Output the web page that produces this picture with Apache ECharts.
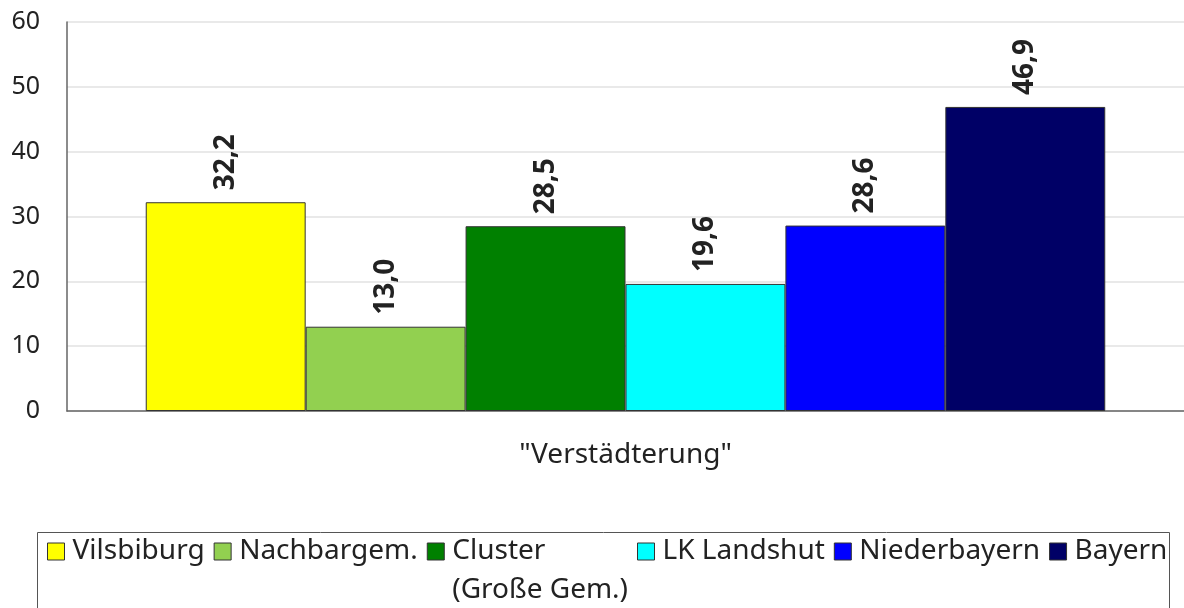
<!DOCTYPE html>
<html>
<head>
<meta charset="utf-8">
<script src="https://cdn.jsdelivr.net/npm/echarts@6/dist/echarts.min.js"></script>
<style>
  html, body { margin: 0; padding: 0; background: #fff; }
  #chart { width: 1184px; height: 608px; }
</style>
</head>
<body>
<div id="chart"></div>
<script>
const categories = ['"Verstädterung"']
const seriesNames = ['Vilsbiburg', 'Nachbargem.', 'Cluster\n(Große Gem.)', 'LK Landshut', 'Niederbayern', 'Bayern']
const seriesValues = [32.2, 13.0, 28.5, 19.6, 28.6, 46.9]
const colorList = ['#ffff00', '#92d050', '#008000', '#00ffff', '#0000ff', '#000066']
const yTicks = [0, 10, 20, 30, 40, 50, 60]

const font = 'Noto Sans'
const lineH = 39

let eChart = echarts.init(document.getElementById('chart'))

let series = seriesNames.map((name, i) => ({
    name: name,
    type: 'bar',
    barGap: 0,
    barCategoryGap: '14.1%',
    itemStyle: {
        color: colorList[i],
        borderColor: '#333',
        borderWidth: 1
    },
    label: {
        show: true,
        position: 'top',
        rotate: 90,
        align: 'left',
        verticalAlign: 'middle',
        distance: 12,
        fontFamily: font,
        fontWeight: 'bold',
        fontSize: 28,
        color: '#222',
        formatter: p => p.value.toFixed(1).replace('.', ',')
    },
    data: [seriesValues[i]]
}))

let option = {
    animation: false,
    grid: {
        left: 67,
        right: 0,
        top: 22,
        bottom: 197
    },
    xAxis: {
        type: 'category',
        data: categories,
        axisLine: { lineStyle: { color: '#666', width: 1.5 } },
        axisTick: { show: false },
        axisLabel: {
            fontFamily: font,
            fontSize: 28,
            color: '#222',
            margin: 30
        }
    },
    yAxis: {
        type: 'value',
        min: yTicks[0],
        max: yTicks[yTicks.length - 1],
        interval: 10,
        axisLine: { show: true, lineStyle: { color: '#666', width: 1.5 } },
        axisTick: { show: false },
        splitLine: { lineStyle: { color: '#e2e2e2', width: 1.5 } },
        axisLabel: {
            fontFamily: font,
            fontSize: 25,
            color: '#222',
            margin: 27
        }
    },
    legend: {
        left: 47,
        top: 493,
        width: 1135,
        padding: 0,
        itemWidth: 17,
        itemHeight: 17,
        itemGap: 9,
        icon: 'rect',
        itemStyle: { borderColor: '#333', borderWidth: 1 },
        textStyle: {
            fontFamily: font,
            fontSize: 28,
            lineHeight: lineH,
            color: '#222',
            padding: [0, 0, 0, 3]
        },
        // two-line name: blank first line keeps "Cluster" level with the icon
        formatter: name => name.indexOf('\n') >= 0 ? '\n' + name : name,
        data: seriesNames
    },
    graphic: [{
        type: 'rect',
        shape: { x: 37.5, y: 532.5, width: 1132, height: 100 },
        style: { fill: 'none', stroke: '#555', lineWidth: 1 },
        silent: true
    }],
    series: series
}

eChart.setOption(option)
</script>
</body>
</html>
